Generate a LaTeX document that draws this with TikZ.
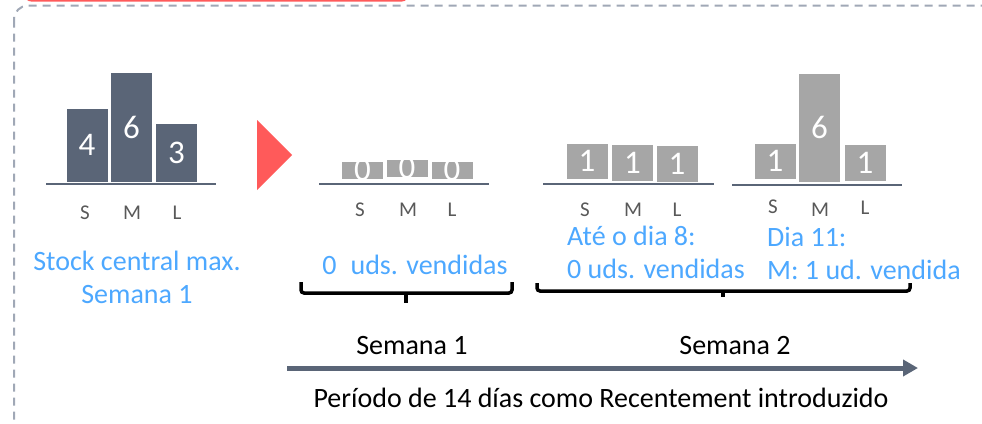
\documentclass[tikz,border=0pt]{standalone}
\usepackage{fontspec}
\setmainfont{Carlito}
\usepackage{xcolor}
\usetikzlibrary{arrows.meta}
\usetikzlibrary{positioning}
\definecolor{ardosia}{RGB}{90,101,119}
\definecolor{cinzabarra}{RGB}{166,166,166}
\definecolor{cinzatexto}{RGB}{89,89,89}
\definecolor{azulnota}{RGB}{77,168,255}
\definecolor{vermelho}{RGB}{255,90,90}
\definecolor{moldura}{RGB}{160,168,182}
\tikzset{
  barra/.style={fill=ardosia, inner sep=0pt, minimum width=41pt, anchor=south, text=white, font=\fontsize{33}{33}\selectfont},
  barracinza/.style={barra, fill=cinzabarra},
  zero/.style={text=white, font=\fontsize{33}{33}\selectfont},
  base/.style={draw=ardosia, line width=2.5pt},
  rotulo/.style={text=cinzatexto, inner sep=0pt, font=\fontsize{21}{21}\selectfont},
  nota/.style={text=azulnota, inner sep=0pt, align=#1, font=\fontsize{28}{33}\selectfont},
  nota/.default=center,
  legenda/.style={inner sep=0pt, font=\fontsize{28}{28}\selectfont},
  chave/.style={line width=3.5pt, rounded corners=3pt},
  seta/.style={-{Triangle[length=15pt,width=16pt]}, draw=ardosia, line width=5pt},
}

\begin{document}
\begin{tikzpicture}[x=1pt, y=-1pt]
  \useasboundingbox (0,0) rectangle (982,423);
  % moldura e aba
  \fill[vermelho, rounded corners=6pt] (25,-20) rectangle (408,1.5);
  \draw[moldura, line width=2pt, dash pattern=on 8pt off 6pt, rounded corners=14pt] (14,5.5) rectangle (1000,440);

  % stock central
  \node[barra, minimum height=73pt] (c1s) at (87,182) {4};
  \node[barra, minimum height=109pt] (c1m) at (131.5,182) {6};
  \node[barra, minimum height=58pt] (c1l) at (176.5,182) {3};
  \draw[base] (46,184) -- (216,184);
  \node[rotulo] (r1s) at (85,213) {S};
  \node[rotulo] (r1m) at (132,213) {M};
  \node[rotulo] (r1l) at (177,213) {L};
  \node[nota] (n1) at (137,277) {Stock central max.\\Semana 1};

  \fill[vermelho] (257,120) -- (292,155) -- (257,190) -- cycle;

  % semana 1
  \node[barracinza, minimum height=17pt, label={[zero]center:0}] (c2s) at (362.5,179) {};
  \node[barracinza, minimum height=17pt, label={[zero]center:0}] (c2m) at (407,177) {};
  \node[barracinza, minimum height=17pt, label={[zero]center:0}] (c2l) at (452,179) {};
  \draw[base] (319,184) -- (489,184);
  \node[rotulo] (r2s) at (360,210) {S};
  \node[rotulo] (r2m) at (408,210) {M};
  \node[rotulo] (r2l) at (452,210) {L};
  \node[nota] (n2) at (415,265) {0\enspace uds. vendidas};

  % ate o dia 8
  \node[barracinza, minimum height=35pt] (c3s) at (587,179) {1};
  \node[barracinza, minimum height=36pt] (c3m) at (632.5,181) {1};
  \node[barracinza, minimum height=36pt] (c3l) at (677,182) {1};
  \draw[base] (543,184) -- (714,184);
  \node[rotulo] (r3s) at (585,210) {S};
  \node[rotulo] (r3m) at (633,210) {M};
  \node[rotulo] (r3l) at (677,210) {L};
  \node[nota=left, anchor=west] (n3) at (567,252) {Até o dia 8:\\0 uds. vendidas};

  % dia 11
  \node[barracinza, minimum height=35pt] (c4s) at (775,179) {1};
  \node[barracinza, minimum height=108pt] (c4m) at (819.5,182) {6};
  \node[barracinza, minimum height=36pt] (c4l) at (865,181) {1};
  \draw[base] (732,185) -- (902,185);
  \node[rotulo] (r4s) at (773,207) {S};
  \node[rotulo] (r4m) at (820,210) {M};
  \node[rotulo] (r4l) at (865,208) {L};
  \node[nota=left, anchor=west] (n4) at (767,253) {Dia 11:\\M: 1 ud. vendida};

  % chaves
  \draw[chave] (301,282) |- (512,293) -- (512,282);
  \draw[line width=3.5pt] (406,293) -- (406,303);
  \draw[chave] (537,283) |- (910,291) -- (910,283);
  \draw[line width=3.5pt] (723,291) -- (723,297);

  % linha do tempo
  \coordinate (ini) at (287,368);
  \coordinate (fim) at (918,368);
  \draw[seta] (ini) -- (fim);
  \node[legenda] (sem1) at (412,346) {Semana 1};
  \node[legenda] (sem2) at (735,346) {Semana 2};
  \node[legenda] (periodo) at (601,398) {Período de 14 días como Recentement introduzido};
\end{tikzpicture}
\end{document}
